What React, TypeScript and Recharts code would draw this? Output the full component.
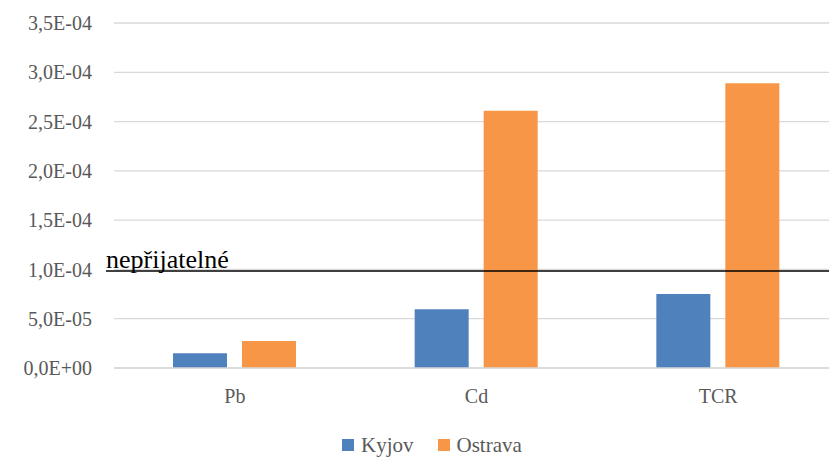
import { Bar, BarChart, CartesianGrid, Legend, ReferenceLine, XAxis, YAxis } from "recharts";

const categories = ["Pb", "Cd", "TCR"];
const kyjov = [1.5e-5, 5.95e-5, 7.5e-5];
const ostrava = [2.75e-5, 2.61e-4, 2.89e-4];
const yTicks = [0, 5e-5, 1e-4, 1.5e-4, 2e-4, 2.5e-4, 3e-4, 3.5e-4];
const threshold = 1e-4;
const thresholdLabel = "nepřijatelné";

const seriesNames = { kyjov: "Kyjov", ostrava: "Ostrava" };
const blue = "#4f81bd";
const orange = "#f79646";
const grid = "#d9d9d9";
const textGrey = "#595959";
const serif = "Liberation Serif, Tinos, DejaVu Serif, serif";

const data = categories.map((name, i) => ({
  name,
  kyjov: kyjov[i],
  ostrava: ostrava[i],
}));

// 3.5e-4 -> "3,5E-04"
function sci(v: number) {
  if (v === 0) return "0,0E+00";
  const exp = Math.floor(Math.log10(Math.abs(v)) + 1e-9);
  const mant = (v / Math.pow(10, exp)).toFixed(1).replace(".", ",");
  const sign = exp < 0 ? "-" : "+";
  return `${mant}E${sign}${String(Math.abs(exp)).padStart(2, "0")}`;
}

function LegendBox() {
  const items = [
    { label: seriesNames.kyjov, color: blue },
    { label: seriesNames.ostrava, color: orange },
  ];
  return (
    <div style={{ display: "flex", alignItems: "center", paddingLeft: 342, paddingTop: 14, fontFamily: serif }}>
      {items.map((it) => (
        <div key={it.label} style={{ display: "flex", alignItems: "center", marginRight: 24 }}>
          <span style={{ width: 12, height: 12, background: it.color, display: "inline-block", marginRight: 7 }} />
          <span style={{ fontSize: 21, color: textGrey, lineHeight: "20px" }}>{it.label}</span>
        </div>
      ))}
    </div>
  );
}

export default function App() {
  return (
    <div
      style={{
        position: "absolute",
        left: 0,
        top: 0,
        width: 829,
        height: 461,
        overflow: "hidden",
        background: "#fff",
        fontFamily: serif,
      }}
    >
      <BarChart
        width={845}
        height={461}
        data={data}
        margin={{ top: 23, right: 6, left: 0, bottom: 0 }}
        barSize={54}
        barGap={15}
        style={{ fontFamily: serif }}
      >
        <CartesianGrid vertical={false} stroke={grid} strokeWidth={1.3} />
        <XAxis
          dataKey="name"
          height={53}
          tickLine={false}
          axisLine={{ stroke: grid, strokeWidth: 1.3 }}
          tickMargin={15}
          tick={{ fontSize: 20, fill: textGrey, fontFamily: serif }}
        />
        <YAxis
          width={114}
          domain={[0, 3.5e-4]}
          ticks={yTicks}
          tickFormatter={sci}
          tickLine={false}
          axisLine={false}
          tickMargin={16}
          tick={{ fontSize: 20, fill: textGrey, fontFamily: serif }}
        />
        <Legend verticalAlign="bottom" height={40} content={() => <LegendBox />} />
        <Bar dataKey="kyjov" name={seriesNames.kyjov} fill={blue} isAnimationActive={false} />
        <Bar dataKey="ostrava" name={seriesNames.ostrava} fill={orange} isAnimationActive={false} />
        <ReferenceLine
          y={threshold}
          shape={(p: any) => (
            <line x1={p.x1 - 8} y1={p.y1 + 1.5} x2={p.x2} y2={p.y2 + 1.5} stroke="#000" strokeWidth={1.6} />
          )}
          label={(p: any) => (
            <text x={p.viewBox.x - 8} y={p.viewBox.y - 1} fontSize={26} style={{ fontFamily: serif }} fill="#000">
              {thresholdLabel}
            </text>
          )}
        />
      </BarChart>
    </div>
  );
}
